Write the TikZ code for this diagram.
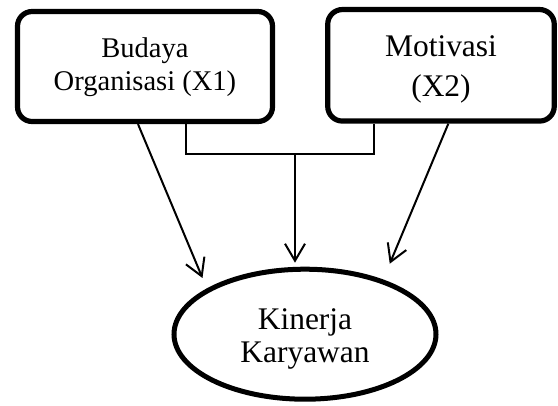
\documentclass[tikz,border=0pt]{standalone}
\usepackage{fontspec}
\setmainfont{Liberation Serif}
\usetikzlibrary{arrows.meta, shapes.geometric}

\begin{document}
\begin{tikzpicture}[x=0.75pt, y=-0.75pt,
		varbox/.style={draw, line width=3.9pt, rounded corners=11pt, align=center, inner sep=0pt},
		link/.style={line width=1.5pt},
		arr/.style={link, -{Straight Barb[length=12.75pt, width=15pt]}}]
		
		\useasboundingbox (0,0) rectangle (558,405);
		
		% independent variables
		\node[varbox, font=\fontsize{21.4}{24.75}\selectfont, minimum width=191.25pt, text height=58.9pt, text depth=23.6pt] (bud) at (145,66.5) {Budaya\\Organisasi (X1)};
		\node[varbox, font=\fontsize{23.6}{30}\selectfont, minimum width=169.9pt, text height=64.9pt, text depth=18.75pt] (mot) at (441,65.3) {Motivasi\\(X2)};
		
		% dependent variable
		\node[ellipse, draw, line width=3.75pt, inner sep=0pt, align=center, font=\fontsize{23.6}{25}\selectfont, minimum width=196.5pt, minimum height=97.5pt, text height=42.75pt, text depth=0pt] (kin) at (305,334.2) {Kinerja\\Karyawan};
		
		% joint effect of X1 and X2
		\coordinate (jn) at (295,154.3);
		\draw[link] ([xshift=30.75pt]bud.south) |- (jn) -| ([xshift=-50.25pt]mot.south);
		\draw[arr, shorten >=3pt] (jn) -- (jn |- kin.north);
		
		% single effects
		\draw[arr, shorten >=8.5pt] ([xshift=-5.25pt]bud.south) -- (kin.155.2);
		\draw[arr, shorten >=12.8pt] ([xshift=5.5pt]mot.south) -- (kin.35.2);
		
	\end{tikzpicture}
\end{document}
